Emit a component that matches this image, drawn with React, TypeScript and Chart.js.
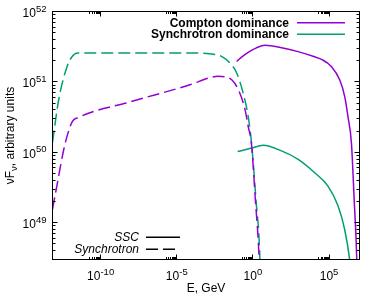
import React, { useEffect, useRef } from "react";
import { Chart, registerables } from "chart.js";

Chart.register(...registerables);

// Values, as log10(E / GeV) and log10(νFν)
const comptonSscLogE = [-1.07, -0.7, -0.31, 0.2, 0.79, 1.8, 2.97, 4.0, 4.5, 5.15, 5.7, 6.03, 6.24, 6.47, 6.65, 6.82, 6.9];
const comptonSscLogF = [51.29, 51.36, 51.42, 51.48, 51.52, 51.49, 51.43, 51.36, 51.32, 51.22, 51.03, 50.79, 50.51, 50.13, 49.33, 48.48, 47.6];

const comptonSynLogE = [-13.16, -12.8, -12.42, -12.12, -11.85, -11.51, -8, -4.13, -2.82, -2.3, -1.83, -1.39, -0.96, -0.52, -0.31, -0.09, 0.16, 0.41, 0.55];
const comptonSynLogF = [49.19, 49.61, 50.04, 50.29, 50.44, 50.49, 50.72, 50.96, 51.06, 51.08, 51.07, 51.03, 50.89, 50.61, 50.37, 50.11, 49.33, 48.48, 47.5];

const synchSscLogE = [-1.0, -0.09, 0.67, 1.88, 2.97, 4.06, 4.93, 5.59, 6.03, 6.35, 6.45];
const synchSscLogF = [50.01, 50.06, 50.1, 50.02, 49.9, 49.71, 49.52, 49.24, 48.9, 48.48, 48.25];

const synchSynLogE = [-13.16, -12.75, -12.2, -11.87, -11.51, -8, -4.13, -2.49, -2.03, -1.51, -1.07, -0.64, -0.31, -0.09, 0.2, 0.46, 0.55];
const synchSynLogF = [50.14, 50.75, 51.22, 51.36, 51.41, 51.41, 51.41, 51.39, 51.36, 51.27, 51.13, 50.84, 50.51, 50.13, 49.33, 48.48, 47.6];

const xMajorExps = [-10, -5, 0, 5];
const xMinorBases = [-15, -10, -5, 0, 5, 10];
const yMajorExps = [49, 50, 51, 52];
const yMinorDecades = [48, 49, 50, 51];
const minorMultipliers = [2, 3, 4, 5, 6, 7, 8, 9];

const X_MIN = 10 ** -13.16;
const X_MAX = 1e7;
const Y_MIN = 3e48;
const Y_MAX = 1e52;

const PURPLE = "#9400d3";
const GREEN = "#009e73";
const DASH = [12, 5];

const FONT_FAMILY = "'Liberation Sans', Arial, sans-serif";
const BASE_FONT = `12px ${FONT_FAMILY}`;
const SUP_FONT = `9.5px ${FONT_FAMILY}`;

const toPoints = (e: number[], f: number[]) => e.map((v, i) => ({ x: 10 ** v, y: 10 ** f[i] }));

function drawPow(ctx: CanvasRenderingContext2D, exp: string, x: number, y: number, align: "right" | "center") {
  ctx.font = BASE_FONT;
  const wb = ctx.measureText("10").width;
  ctx.font = SUP_FONT;
  const we = ctx.measureText(exp).width;
  const total = wb + we;
  const x0 = align === "right" ? x - total : x - total / 2;
  ctx.textAlign = "left";
  ctx.textBaseline = "alphabetic";
  ctx.font = BASE_FONT;
  ctx.fillText("10", x0, y);
  ctx.font = SUP_FONT;
  ctx.fillText(exp, x0 + wb, y - 5.5);
}

const gnuplotFrame = {
  id: "gnuplotFrame",
  afterDraw(chart: any) {
    const { ctx, chartArea: a, scales } = chart;
    const xs = scales.x;
    const ys = scales.y;
    const crisp = (v: number) => Math.floor(v) + 0.5;
    ctx.save();
    ctx.strokeStyle = "#000";
    ctx.fillStyle = "#000";
    ctx.lineWidth = 1;
    ctx.setLineDash([]);

    const left = crisp(a.left);
    const right = crisp(a.right);
    const top = crisp(a.top);
    const bottom = crisp(a.bottom);

    const xTick = (px: number, len: number) => {
      const x = crisp(px);
      ctx.beginPath();
      ctx.moveTo(x, bottom);
      ctx.lineTo(x, bottom - len);
      ctx.moveTo(x, top);
      ctx.lineTo(x, top + len);
      ctx.stroke();
    };
    const yTick = (py: number, len: number) => {
      const y = crisp(py);
      ctx.beginPath();
      ctx.moveTo(left, y);
      ctx.lineTo(left + len, y);
      ctx.moveTo(right, y);
      ctx.lineTo(right - len, y);
      ctx.stroke();
    };

    // x ticks
    xMinorBases.forEach((k) => {
      minorMultipliers.forEach((m) => {
        const v = m * 10 ** (k - 1);
        if (v > X_MIN && v < X_MAX) xTick(xs.getPixelForValue(v), 2.5);
      });
    });
    xMajorExps.forEach((k) => xTick(xs.getPixelForValue(10 ** k), 5));

    // y ticks
    yMinorDecades.forEach((n) => {
      minorMultipliers.forEach((m) => {
        const v = m * 10 ** n;
        if (v > Y_MIN && v < Y_MAX) yTick(ys.getPixelForValue(v), 3);
      });
    });
    yMajorExps.forEach((n) => yTick(ys.getPixelForValue(10 ** n), 5));

    // frame
    ctx.strokeRect(left, top, right - left, bottom - top);

    // tick labels
    xMajorExps.forEach((k) => {
      drawPow(ctx, String(k), xs.getPixelForValue(10 ** k), 280, "center");
    });
    yMajorExps.forEach((n) => {
      drawPow(ctx, String(n), left - 6, ys.getPixelForValue(10 ** n) + 5.5, "right");
    });

    // x title
    ctx.font = BASE_FONT;
    ctx.textAlign = "center";
    ctx.textBaseline = "alphabetic";
    ctx.fillText("E, GeV", (a.left + a.right) / 2, 292);

    // y title (rotated)
    ctx.save();
    ctx.translate(14, (a.top + a.bottom) / 2);
    ctx.rotate(-Math.PI / 2);
    const p1 = "νF";
    const p2 = "ν";
    const p3 = ", arbitrary units";
    ctx.font = BASE_FONT;
    const w1 = ctx.measureText(p1).width;
    const w3 = ctx.measureText(p3).width;
    ctx.font = SUP_FONT;
    const w2 = ctx.measureText(p2).width;
    let tx = -(w1 + w2 + w3) / 2;
    ctx.textAlign = "left";
    ctx.font = BASE_FONT;
    ctx.fillText(p1, tx, 0);
    tx += w1;
    ctx.font = SUP_FONT;
    ctx.fillText(p2, tx, 3);
    tx += w2;
    ctx.font = BASE_FONT;
    ctx.fillText(p3, tx, 0);
    ctx.restore();

    // legends
    const legendRow = (
      label: string,
      font: string,
      textRight: number,
      y: number,
      x1: number,
      x2: number,
      color: string,
      dash: number[]
    ) => {
      ctx.font = font;
      ctx.fillStyle = "#000";
      ctx.textAlign = "right";
      ctx.textBaseline = "middle";
      ctx.fillText(label, textRight, y + 0.5);
      ctx.strokeStyle = color;
      ctx.lineWidth = 1.5;
      ctx.setLineDash(dash);
      ctx.beginPath();
      ctx.moveTo(x1, y);
      ctx.lineTo(x2, y);
      ctx.stroke();
      ctx.setLineDash([]);
    };
    legendRow("Compton dominance", `bold 12px ${FONT_FAMILY}`, 289, 22.7, 297, 345, PURPLE, []);
    legendRow("Synchrotron dominance", `bold 12px ${FONT_FAMILY}`, 289, 34.3, 297, 345, GREEN, []);
    legendRow("SSC", `italic 12px ${FONT_FAMILY}`, 139, 237.3, 146, 180, "#000", []);
    legendRow("Synchrotron", `italic 12px ${FONT_FAMILY}`, 139, 249.3, 146, 180, "#000", DASH);

    ctx.restore();
  },
};

export default function App() {
  const canvasRef = useRef<HTMLCanvasElement | null>(null);

  useEffect(() => {
    if (!canvasRef.current) return;
    const common = {
      fill: false,
      pointRadius: 0,
      borderWidth: 1.5,
      cubicInterpolationMode: "monotone" as const,
      clip: 0,
    };
    const chart = new Chart(canvasRef.current, {
      type: "line",
      data: {
        datasets: [
          { ...common, label: "Compton SSC", data: toPoints(comptonSscLogE, comptonSscLogF), borderColor: PURPLE },
          { ...common, label: "Compton synchrotron", data: toPoints(comptonSynLogE, comptonSynLogF), borderColor: PURPLE, borderDash: DASH },
          { ...common, label: "Synchrotron SSC", data: toPoints(synchSscLogE, synchSscLogF), borderColor: GREEN },
          { ...common, label: "Synchrotron synchrotron", data: toPoints(synchSynLogE, synchSynLogF), borderColor: GREEN, borderDash: DASH },
        ],
      },
      options: {
        responsive: false,
        animation: false,
        devicePixelRatio: 1,
        layout: { padding: { left: 52.5, right: 21.5, top: 11.5, bottom: 39.5 } },
        plugins: { legend: { display: false }, tooltip: { enabled: false } },
        scales: {
          x: { type: "logarithmic", min: X_MIN, max: X_MAX, display: false },
          y: { type: "logarithmic", min: Y_MIN, max: Y_MAX, display: false },
        },
      },
      plugins: [gnuplotFrame],
    });
    return () => chart.destroy();
  }, []);

  return (
    <div style={{ position: "absolute", left: 0, top: 0, width: 381, height: 299, background: "#fff" }}>
      <canvas ref={canvasRef} width={381} height={299} style={{ display: "block" }} />
    </div>
  );
}
